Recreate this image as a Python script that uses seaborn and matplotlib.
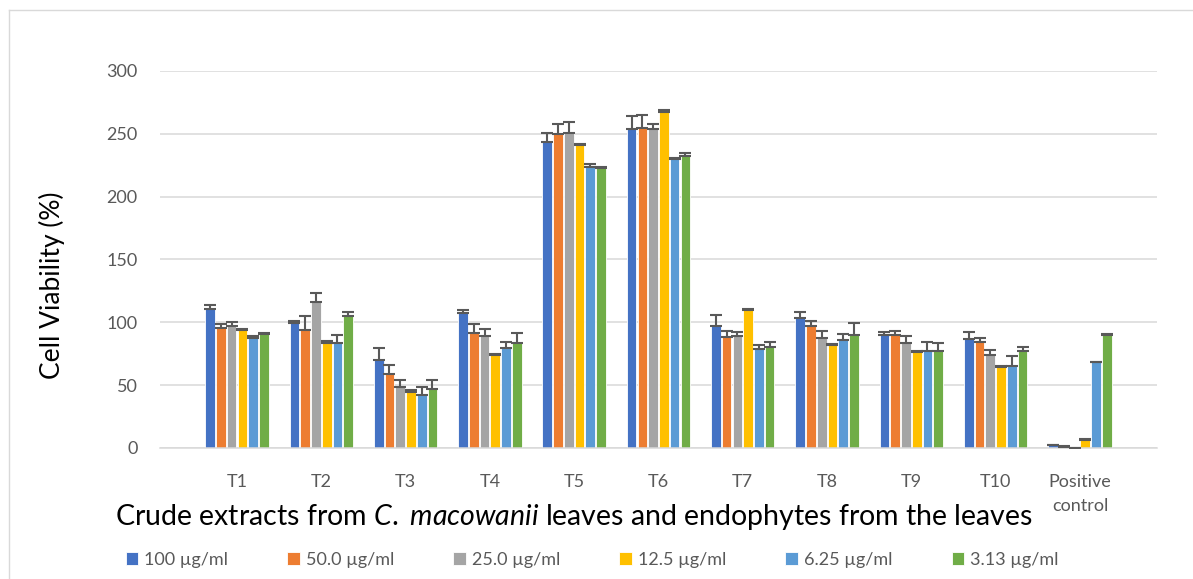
import numpy as np
import pandas as pd
import matplotlib
matplotlib.use('Agg')
import matplotlib.pyplot as plt
import seaborn as sns
from matplotlib.lines import Line2D

samples = ['T1', 'T2', 'T3', 'T4', 'T5', 'T6', 'T7', 'T8', 'T9', 'T10', 'Positive\ncontrol']
concs = ['100 µg/ml', '50.0 µg/ml', '25.0 µg/ml', '12.5 µg/ml', '6.25 µg/ml', '3.13 µg/ml']
colors = ['#4472C4', '#ED7D31', '#A5A5A5', '#FFC000', '#5B9BD5', '#70AD47']

# mean viability per concentration, one value per sample
c100 = [110.6, 99.7, 70.0, 107.7, 243.5, 253.8, 96.8, 103.4, 90.2, 87.0, 2.0]
c50 = [95.2, 94.2, 58.6, 91.8, 250.1, 254.6, 88.6, 97.3, 90.2, 84.4, 1.0]
c25 = [97.1, 116.2, 48.8, 89.4, 250.4, 254.1, 89.4, 87.5, 83.6, 74.3, 0.0]
c12 = [93.9, 83.8, 44.6, 73.8, 241.4, 267.6, 110.1, 81.7, 76.1, 64.5, 6.6]
c6 = [87.8, 83.6, 42.4, 79.6, 223.9, 230.2, 78.8, 85.7, 76.9, 65.5, 68.2]
c3 = [90.5, 105.0, 47.2, 83.8, 222.6, 232.6, 80.6, 89.9, 77.5, 76.9, 89.7]

# upper error (SD)
e100 = [3.0, 1.6, 9.6, 2.1, 7.2, 10.6, 9.0, 4.6, 1.8, 5.3, 0.6]
e50 = [3.5, 10.8, 7.4, 6.6, 7.7, 10.4, 4.5, 3.5, 2.9, 3.1, 0.4]
e25 = [3.4, 7.4, 5.3, 5.0, 9.3, 3.5, 2.9, 5.8, 5.8, 3.7, 0.0]
e12 = [1.0, 1.0, 1.3, 1.0, 0.8, 1.1, 0.8, 1.3, 1.1, 0.8, 0.8]
e6 = [1.3, 6.6, 6.4, 4.8, 2.1, 0.6, 3.4, 5.3, 7.7, 7.5, 0.5]
e3 = [1.0, 3.2, 6.9, 8.0, 0.8, 2.4, 4.0, 9.8, 6.3, 3.7, 0.8]

values = [c100, c50, c25, c12, c6, c3]
errors = [e100, e50, e25, e12, e6, e3]

rows = []
for c, vals in zip(concs, values):
    for s, v in zip(samples, vals):
        rows.append([s, c, v])
df = pd.DataFrame(rows, columns=['Sample', 'Conc', 'Viability'])

plt.rcParams['font.family'] = ['Lato', 'DejaVu Sans']
plt.rcParams['mathtext.fontset'] = 'custom'
plt.rcParams['mathtext.rm'] = 'Lato'
plt.rcParams['mathtext.it'] = 'Lato:italic'

fig = plt.figure(figsize=(11.93, 5.79), dpi=100)
ax = fig.add_axes([0.1341, 0.2263, 0.8357, 0.6511])

sns.barplot(data=df, x='Sample', y='Viability', hue='Conc', palette=colors,
            saturation=1, width=0.765, gap=0.1, errorbar=None, edgecolor='white',
            linewidth=0.6, ax=ax, zorder=2)

# error bars only on the upper side
for cont, errs in zip(ax.containers, errors):
    xs = [p.get_x() + p.get_width() / 2 for p in cont]
    ys = [p.get_height() for p in cont]
    ax.errorbar(xs, ys, yerr=[np.zeros(len(errs)), errs], fmt='none',
                ecolor='#595959', elinewidth=1.5, capsize=4.3, capthick=1.5, zorder=3)

ax.set_ylim(0, 300)
ax.set_yticks(range(0, 301, 50))
ax.set_axisbelow(True)
ax.grid(axis='y', color='#D9D9D9', linewidth=1.1)
for side in ['top', 'right', 'left']:
    ax.spines[side].set_visible(False)
ax.spines['bottom'].set_color('#D9D9D9')
ax.spines['bottom'].set_linewidth(1.1)
ax.tick_params(axis='y', length=0, pad=16, labelsize=13, labelcolor='#595959')
ax.tick_params(axis='x', length=0, pad=19, labelsize=13, labelcolor='#595959')
for lbl in ax.get_xticklabels():
    lbl.set_linespacing(1.55)

ax.set_ylabel('Cell Viability (%)', fontsize=19, color='black')
ax.yaxis.set_label_coords(-0.0953, 0.432)
ax.set_xlabel(r'Crude extracts from $\mathit{C.}$ $\mathit{macowanii}$ leaves and endophytes from the leaves',
              fontsize=20.5, color='black')
ax.xaxis.set_label_coords(0.415, -0.183)
ax.xaxis.label.set_va('center')

sns.move_legend(ax, 'center', bbox_to_anchor=(592 / 1193, 1 - 560 / 579),
                bbox_transform=fig.transFigure, ncol=6, frameon=False, title=None,
                handlelength=0.7, handleheight=0.7, handletextpad=0.3,
                columnspacing=3.3, fontsize=13, labelcolor='#595959')

# chart area border (partly cropped in the original)
fig.add_artist(Line2D([9 / 1193, 9 / 1193], [0, 1 - 10 / 579], transform=fig.transFigure,
                      color='#D9D9D9', linewidth=1))
fig.add_artist(Line2D([9 / 1193, 1], [1 - 10 / 579, 1 - 10 / 579], transform=fig.transFigure,
                      color='#D9D9D9', linewidth=1))

fig.savefig('out.png', dpi=100)
